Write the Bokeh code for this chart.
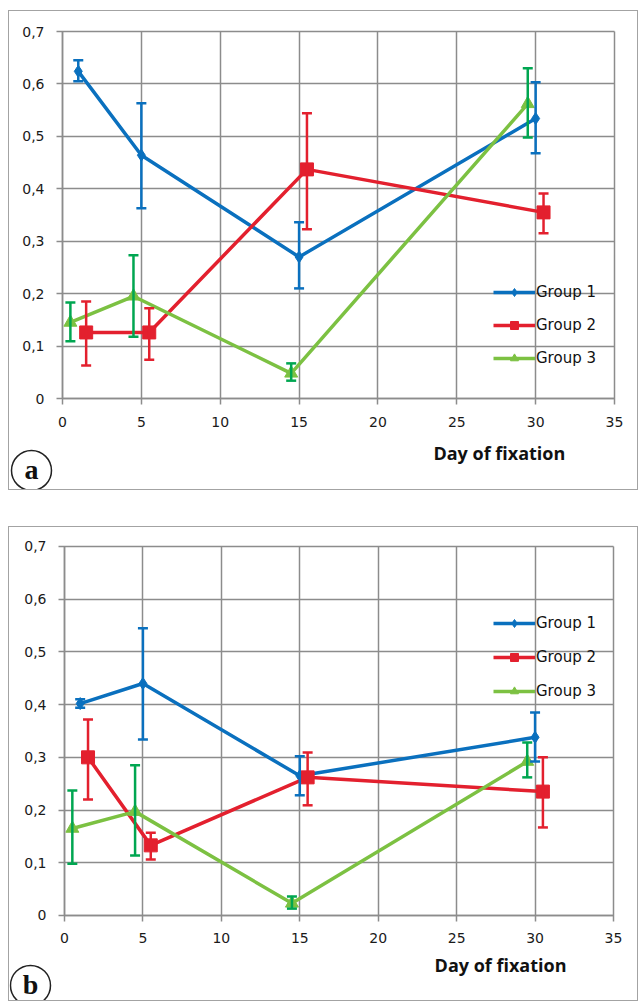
from bokeh.plotting import figure
from bokeh.models import (Range1d, FixedTicker, CustomJSTickFormatter, Whisker,
                          TeeHead, ColumnDataSource, LinearAxis, Spacer)
from bokeh.layouts import column, row
from bokeh.embed import file_html
from bokeh.resources import INLINE
from bokeh.core.properties import value

# ---------------- data ----------------
groups = ["Group 1", "Group 2", "Group 3"]
days_g1 = [1, 5, 15, 30]
days_g2 = [1.5, 5.5, 15.5, 30.5]
days_g3 = [0.5, 4.5, 14.5, 29.5]
x_ticks = [0, 5, 10, 15, 20, 25, 30, 35]
y_ticks = [0, 0.1, 0.2, 0.3, 0.4, 0.5, 0.6, 0.7]
x_label = "Day of fixation"

# panel a
a_g1 = [0.624, 0.464, 0.270, 0.534]
a_g1_up = [0.645, 0.563, 0.336, 0.603]
a_g1_lo = [0.605, 0.363, 0.210, 0.468]
a_g2 = [0.126, 0.126, 0.437, 0.355]
a_g2_up = [0.185, 0.172, 0.544, 0.391]
a_g2_lo = [0.063, 0.074, 0.323, 0.315]
a_g3 = [0.145, 0.195, 0.048, 0.562]
a_g3_up = [0.183, 0.273, 0.067, 0.630]
a_g3_lo = [0.109, 0.118, 0.034, 0.498]

# panel b
b_g1 = [0.402, 0.440, 0.265, 0.338]
b_g1_up = [0.410, 0.545, 0.302, 0.385]
b_g1_lo = [0.394, 0.334, 0.228, 0.292]
b_g2 = [0.300, 0.133, 0.262, 0.235]
b_g2_up = [0.372, 0.157, 0.309, 0.300]
b_g2_lo = [0.220, 0.106, 0.209, 0.167]
b_g3 = [0.165, 0.197, 0.023, 0.292]
b_g3_up = [0.237, 0.285, 0.036, 0.328]
b_g3_lo = [0.098, 0.114, 0.013, 0.262]

# ---------------- style ----------------
LINE_COLORS = ["#0a70be", "#e3202e", "#7cc142"]
ERR_COLORS = ["#0a70be", "#e3202e", "#00a651"]
MARKERS = ["diamond", "square", "triangle"]
MARKER_SIZES = [12, 13, 13]
GRID = "#8c8c8c"
TXT = "#1a1a1a"


def make_panel(series, letter, width, height, xr, yr, grid_w_px, grid_h_px,
               legend_loc, legend_spacing, xlab_pos, circ_pos):
    p = figure(width=width, height=height,
               min_border=0,
               x_range=Range1d(*xr), y_range=Range1d(*yr),
               x_axis_type=None, y_axis_type=None,
               output_backend="svg", toolbar_location=None)
    p.background_fill_color = "white"
    p.border_fill_color = "white"
    p.outline_line_color = None

    # axes placed at the data origin; long inward ticks form the grid
    xaxis = LinearAxis(fixed_location=0, bounds=(x_ticks[0], x_ticks[-1]),
                       ticker=FixedTicker(ticks=x_ticks),
                       major_tick_in=grid_h_px, major_tick_out=6,
                       major_label_standoff=12, level="underlay")
    yaxis = LinearAxis(fixed_location=0, bounds=(y_ticks[0], y_ticks[-1]),
                       ticker=FixedTicker(ticks=y_ticks),
                       major_tick_in=grid_w_px, major_tick_out=6,
                       major_label_standoff=12, level="underlay")
    yaxis.formatter = CustomJSTickFormatter(code="""
        if (Math.abs(tick) < 1e-9) { return "0"; }
        return tick.toFixed(1).replace(".", ",");
    """)
    for ax in (xaxis, yaxis):
        ax.axis_line_color = GRID
        ax.axis_line_width = 1.5
        ax.major_tick_line_color = GRID
        ax.major_tick_line_width = 1.5
        ax.minor_tick_line_color = None
        ax.major_label_text_font = "DejaVu Sans"
        ax.major_label_text_font_size = "14px"
        ax.major_label_text_color = TXT
    p.add_layout(xaxis, "below")
    p.add_layout(yaxis, "left")

    for i, (xs, ys, ups, los) in enumerate(series):
        src = ColumnDataSource(dict(x=xs, y=ys, upper=ups, lower=los))
        p.line("x", "y", source=src, line_color=LINE_COLORS[i], line_width=3.5,
               legend_label=groups[i])
        p.scatter("x", "y", source=src, marker=MARKERS[i], size=MARKER_SIZES[i],
                  fill_color=LINE_COLORS[i], line_color=LINE_COLORS[i],
                  legend_label=groups[i])
        w = Whisker(source=src, base="x", upper="upper", lower="lower",
                    dimension="height", line_color=ERR_COLORS[i], line_width=2.5,
                    level="annotation",
                    upper_head=TeeHead(size=10, line_color=ERR_COLORS[i], line_width=2.5),
                    lower_head=TeeHead(size=10, line_color=ERR_COLORS[i], line_width=2.5))
        p.add_layout(w)

    lg = p.legend[0]
    lg.location = legend_loc
    lg.padding = 0
    lg.margin = 0
    lg.spacing = legend_spacing
    lg.glyph_width = 42
    lg.glyph_height = 20
    lg.label_height = 20
    lg.label_standoff = 1
    lg.background_fill_alpha = 0
    lg.border_line_alpha = 0
    lg.label_text_font = "DejaVu Sans"
    lg.label_text_font_size = "15px"
    lg.label_text_color = "#111111"

    # axis title
    p.text(x=[xlab_pos[0]], y=[xlab_pos[1]], text=[x_label],
           text_font=value("Open Sans"), text_font_style="bold",
           text_font_size="18px", text_color="#111111",
           text_align="center", text_baseline="middle")
    # panel letter in a circle
    p.scatter(x=[circ_pos[0]], y=[circ_pos[1]], marker="circle", size=40,
              fill_color="white", line_color="#222222", line_width=1.5)
    p.text(x=[circ_pos[0]], y=[circ_pos[1]], text=[letter],
           text_font=value("Liberation Serif"), text_font_style="bold",
           text_font_size="28px", text_color="#111111",
           text_align="center", text_baseline="middle", y_offset=-1)
    return p


pa = make_panel(
    [(days_g1, a_g1, a_g1_up, a_g1_lo),
     (days_g2, a_g2, a_g2_up, a_g2_lo),
     (days_g3, a_g3, a_g3_up, a_g3_lo)],
    "a", 628, 478, (-3.3606, 36.458), (-0.17357, 0.73815), 552, 367,
    (484, 121), 13, (27.7, -0.103), (-1.966, -0.1373))

pb = make_panel(
    [(days_g1, b_g1, b_g1_up, b_g1_lo),
     (days_g2, b_g2, b_g2_up, b_g2_lo),
     (days_g3, b_g3, b_g3_up, b_g3_lo)],
    "b", 628, 473, (-3.506, 36.53), (-0.1613, 0.736), 549, 369,
    (484, 299), 14, (27.8, -0.0949), (-2.168, -0.1328))

box = {"border": "1px solid #a3a3a3"}
layout = column(
    Spacer(height=10),
    row(Spacer(width=8), column(pa, styles=box)),
    Spacer(height=36),
    row(Spacer(width=8), column(pb, styles=box)),
)
open("out.html", "w").write(file_html(layout, INLINE))
